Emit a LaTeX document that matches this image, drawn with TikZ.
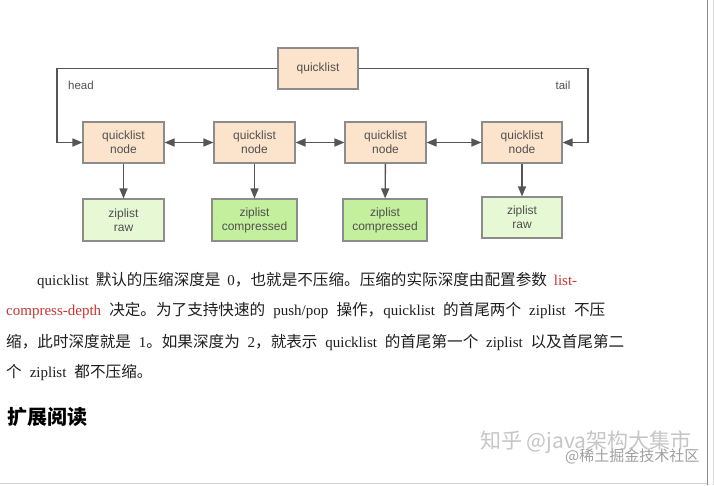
\documentclass[tikz,border=0pt]{standalone}
\usepackage{fontspec}
\setmainfont{Liberation Serif}
\setsansfont{Liberation Sans}
\newfontfamily\cjk{Noto Sans CJK SC}
\usetikzlibrary{arrows.meta}
\definecolor{peach}{HTML}{FCE4CC}
\definecolor{rawgreen}{HTML}{E6F8D4}
\definecolor{cmpgreen}{HTML}{C4EF9C}
\definecolor{edgegray}{HTML}{8C8C8C}
\definecolor{txtgray}{HTML}{505050}
\definecolor{arrgray}{HTML}{555555}
\definecolor{linkred}{HTML}{C8342F}
\newcommand\zh[1]{{\cjk\fontsize{15.6}{18}\selectfont #1}}
\newcommand\gp{\hskip 6pt plus 1fil minus 5pt}
\tikzset{
  box/.style={draw=edgegray, line width=1.1pt, inner sep=0pt, align=center,
    font=\sffamily\fontsize{12}{14}\selectfont, text=txtgray},
  qbox/.style={box, fill=peach, minimum width=81pt, minimum height=41pt},
  zraw/.style={box, fill=rawgreen, minimum width=81pt, minimum height=42pt},
  zcmp/.style={box, fill=cmpgreen, minimum width=85pt, minimum height=42pt},
  arr/.style={draw=arrgray, line width=1.4pt, -{Triangle[length=10pt,width=8pt]}},
  darr/.style={draw=arrgray, line width=1.4pt, {Triangle[length=10pt,width=8pt]}-{Triangle[length=10pt,width=8pt]}},
  lbl/.style={font=\sffamily\fontsize{11.5}{13}\selectfont, text=txtgray, inner sep=0pt},
  para/.style={anchor=base west, inner sep=0pt, font=\fontsize{15}{18}\selectfont, text=black!88},
}
\begin{document}
\begin{tikzpicture}[x=1pt,y=-1pt]
\useasboundingbox (0,0) rectangle (714,485);
\fill[white] (0,0) rectangle (714,485);
% page borders
\draw[gray!90, line width=1pt] (707,0) -- (707,485);
\draw[gray!30, line width=0.8pt] (713,0) -- (713,485);
\draw[gray!35, line width=1pt] (0,483.5) -- (707,483.5);

% diagram nodes
\node[qbox, minimum width=80pt] (ql) at (318,68.5) {quicklist};
\node[qbox] (n1) at (123.5,142.5) {quicklist\\node};
\node[qbox] (n2) at (254.5,142.5) {quicklist\\node};
\node[qbox] (n3) at (385.5,142.5) {quicklist\\node};
\node[qbox, minimum width=80pt] (n4) at (522,142.5) {quicklist\\node};
\node[zraw] (z1) at (123.5,220) {ziplist\\raw};
\node[zcmp] (z2) at (254.5,220) {ziplist\\compressed};
\node[zcmp, minimum width=84pt] (z3) at (385,220) {ziplist\\compressed};
\node[zraw, minimum width=80pt, minimum height=41pt] (z4) at (522,217.5) {ziplist\\raw};

\coordinate (hc) at (57,68.5);
\coordinate (tc) at (588,68.5);
\draw[arr] (ql.west) -- (hc) |- (n1.west);
\draw[arr] (ql.east) -- (tc) |- (n4.east);
\node[lbl] (head) at (81,85) {head};
\node[lbl] (tail) at (563,85) {tail};

\draw[darr] (n1) -- (n2);
\draw[darr] (n2) -- (n3);
\draw[darr] (n3) -- (n4);
\draw[arr] (n1) -- (z1);
\draw[arr] (n2) -- (z2);
\draw[arr] (n3) -- (z3);
\draw[arr] (n4) -- (z4);

% paragraph
\node[para] (l1) at (37,285.5) {\hbox to 540pt{quicklist\gp\zh{默认的压缩深度是}\gp 0\zh{，也就是不压缩。压缩的实际深度由配置参数}\gp\textcolor{linkred}{list-}}};
\node[para] (l2) at (6,315.5) {\hbox to 599pt{\textcolor{linkred}{compress-depth}\gp\zh{决定。为了支持快速的}\gp push/pop\gp\zh{操作，}quicklist\gp\zh{的首尾两个}\gp ziplist\gp\zh{不压}}};
\node[para] (l3) at (6,347) {\hbox to 618pt{\zh{缩，此时深度就是}\gp 1\zh{。如果深度为}\gp 2\zh{，就表示}\gp quicklist\gp\zh{的首尾第一个}\gp ziplist\gp\zh{以及首尾第二}}};
\node[para] (l4) at (6,377.5) {\zh{个}\hskip 8pt ziplist\hskip 8pt\zh{都不压缩。}};

% heading
\node[anchor=base west, inner sep=0pt, font=\cjk\bfseries\fontsize{20}{24}\selectfont, text=black] (h) at (7,424) {扩展阅读};

% watermark (the two marks overlap in the reference)
\node[anchor=west, inner sep=0pt, font=\cjk\fontsize{21}{24}\selectfont, text=gray!45] (wm1) at (480,442) {知乎 @java架构大集市};
\node[anchor=west, inner sep=0pt, font=\cjk\fontsize{15}{18}\selectfont, text=gray!75] (wm2) at (565,456) {@稀土掘金技术社区};
\end{tikzpicture}
\end{document}
